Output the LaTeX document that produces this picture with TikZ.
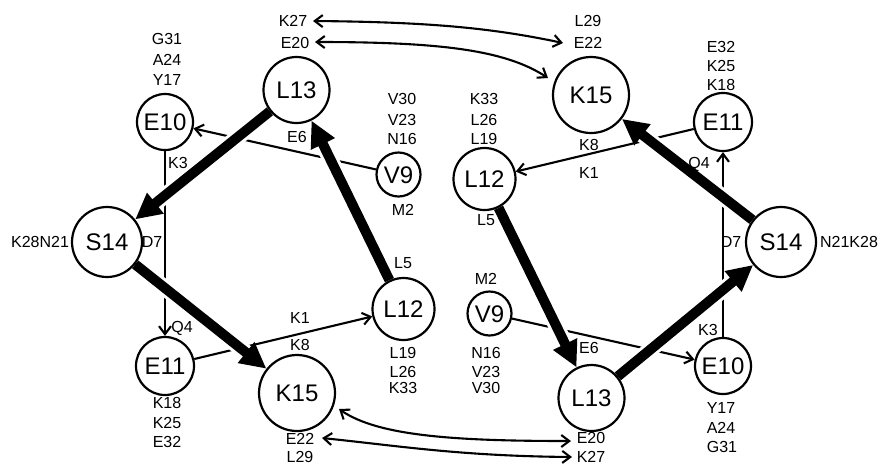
\documentclass[tikz,border=0pt]{standalone}
\usepackage{fontspec}
\setmainfont{Liberation Sans}
\usetikzlibrary{arrows.meta}
\pgfdeclarelayer{background}
\pgfsetlayers{background,main}
\begin{document}
\begin{tikzpicture}[x=1pt,y=-1pt,
  res/.style={circle, draw, line width=2.2pt, inner sep=0pt,
    font=\fontsize{24}{28}\selectfont, text height=17.2pt, text depth=0pt},
  lab/.style={inner sep=0pt, font=\fontsize{16}{18}\selectfont,
    text height=11.5pt, text depth=0pt},
  bond/.style={line width=2.1pt, -{Straight Barb[length=8pt,width=12pt]}},
  link/.style={line width=2.1pt,
    {Straight Barb[length=8pt,width=12pt]}-{Straight Barb[length=8pt,width=12pt]}},
  helix/.style={line width=10pt, -{Triangle[length=26pt,width=25pt]},
    preaction={draw=white, line width=16pt, -}}]
\useasboundingbox (0,0) rectangle (882,467);

% residues, first wheel
\node[res, minimum size=56pt] (E10a) at (165,122)   {E10};
\node[res, minimum size=66pt] (L13a) at (296.5,90)  {L13};
\node[res, minimum size=44pt] (V9a)  at (398.5,174.5) {V9};
\node[res, minimum size=70pt] (S14a) at (107,242)   {S14};
\node[res, minimum size=58pt] (E11a) at (165,366)   {E11};
\node[res, minimum size=76pt] (K15a) at (297,393)   {K15};
\node[res, minimum size=62pt] (L12a) at (403.5,309) {L12};
% residues, second wheel
\node[res, minimum size=56pt] (E10b) at (723,366)   {E10};
\node[res, minimum size=66pt] (L13b) at (591.5,398) {L13};
\node[res, minimum size=44pt] (V9b)  at (489.5,313.5) {V9};
\node[res, minimum size=70pt] (S14b) at (781,242)   {S14};
\node[res, minimum size=58pt] (E11b) at (723,122)   {E11};
\node[res, minimum size=76pt] (K15b) at (591,95)    {K15};
\node[res, minimum size=62pt] (L12b) at (484.5,179) {L12};

% heptad labels, upper half
\node[lab] (tK27) at (293,21) {K27};
\node[lab] (tE20) at (295,43) {E20};
\node[lab] (tL29) at (588,21) {L29};
\node[lab] (tE22) at (588,43) {E22};
\node[lab] (tG31) at (167,39) {G31};
\node[lab] (tA24) at (167,60) {A24};
\node[lab] (tY17) at (167,80) {Y17};
\node[lab] (tE32) at (721,47) {E32};
\node[lab] (tK25) at (721,66) {K25};
\node[lab] (tK18) at (721,85) {K18};
\node[lab] (tE6)  at (297,137) {E6};
\node[lab] (tV30) at (402,99)  {V30};
\node[lab] (tV23) at (402,120) {V23};
\node[lab] (tN16) at (402,139) {N16};
\node[lab] (tM2)  at (403,210) {M2};
\node[lab] (tK33) at (484,99)  {K33};
\node[lab] (tL26) at (484,120) {L26};
\node[lab] (tL19) at (484,139) {L19};
\node[lab] (tL5)  at (486,220) {L5};
\node[lab] (tK8)  at (589,145) {K8};
\node[lab] (tK1)  at (589,173) {K1};
\node[lab] (tK3)  at (178,163) {K3};
\node[lab] (tQ4)  at (699,163) {Q4};
% side labels
\node[lab] (lKN)  at (40,242)  {K28N21};
\node[lab] (lD7)  at (152,242) {D7};
\node[lab] (rD7)  at (731,242) {D7};
\node[lab] (rNK)  at (849,242) {N21K28};
% heptad labels, lower half
\node[lab] (bQ4)  at (182,327) {Q4};
\node[lab] (bK3)  at (708,330) {K3};
\node[lab] (bK1)  at (300,318) {K1};
\node[lab] (bK8)  at (300,345) {K8};
\node[lab] (bL5)  at (403,263) {L5};
\node[lab] (bM2)  at (486,279) {M2};
\node[lab] (bL19) at (403,353) {L19};
\node[lab] (bL26) at (403,372) {L26};
\node[lab] (bK33) at (403,388) {K33};
\node[lab] (bN16) at (486,353) {N16};
\node[lab] (bV23) at (486,372) {V23};
\node[lab] (bV30) at (486,388) {V30};
\node[lab] (bE6)  at (589,348) {E6};
\node[lab] (bK18) at (167,403) {K18};
\node[lab] (bK25) at (167,423) {K25};
\node[lab] (bE32) at (167,442) {E32};
\node[lab] (bY17) at (721,408) {Y17};
\node[lab] (bA24) at (721,428) {A24};
\node[lab] (bG31) at (722,447) {G31};
\node[lab] (bE22) at (300,439) {E22};
\node[lab] (bL29) at (300,457) {L29};
\node[lab] (bE20) at (591,438) {E20};
\node[lab] (bK27) at (591,457) {K27};

% ends of the interhelical links
\coordinate (uA) at (313,21);
\coordinate (uB) at (563,43);
\coordinate (uC) at (315,42);
\coordinate (uD) at (548,78);
\coordinate (lA) at (339,409);
\coordinate (lB) at (571,441);
\coordinate (lC) at (322,438);
\coordinate (lD) at (572,457);

\begin{pgfonlayer}{background}
  % sequence connections
  \draw[bond] (V9a) -- (E10a);
  \draw[bond] (E10a) -- (E11a);
  \draw[bond] (E11a) -- (L12a);
  \draw[bond] (V9b) -- (E10b);
  \draw[bond] (E10b) -- (E11b);
  \draw[bond] (E11b) -- (L12b);
  % main path through each wheel
  \draw[helix] (L13a) -- (S14a);
  \draw[helix] (L12a) -- (L13a);
  \draw[helix] (S14a) -- (K15a);
  \draw[helix] (L13b) -- (S14b);
  \draw[helix] (L12b) -- (L13b);
  \draw[helix] (S14b) -- (K15b);
  % interhelical links
  \draw[link] (uA) .. controls (430,22) and (492,28) .. (uB);
  \draw[link] (uC) .. controls (440,42) and (505,50) .. (uD);
  \draw[link] (lA) .. controls (378,436) and (455,441) .. (lB);
  \draw[link] (lC) .. controls (400,446) and (460,456) .. (lD);
\end{pgfonlayer}
\end{tikzpicture}
\end{document}
